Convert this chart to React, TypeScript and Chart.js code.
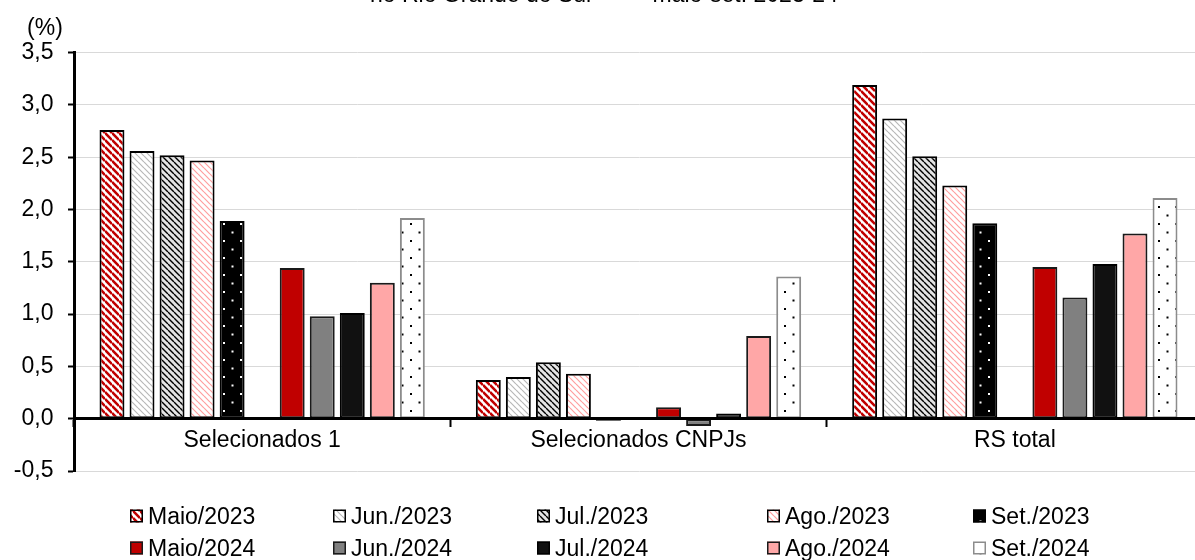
import React, { useEffect, useRef } from 'react';
import { Chart, registerables } from 'chart.js';

Chart.register(...registerables);

const categories = ['Selecionados 1', 'Selecionados CNPJs', 'RS total'];
const seriesLabels = [
  'Maio/2023', 'Jun./2023', 'Jul./2023', 'Ago./2023', 'Set./2023',
  'Maio/2024', 'Jun./2024', 'Jul./2024', 'Ago./2024', 'Set./2024',
];
const maio2023 = [2.76, 0.37, 3.19];
const jun2023 = [2.56, 0.40, 2.87];
const jul2023 = [2.52, 0.54, 2.51];
const ago2023 = [2.47, 0.43, 2.23];
const set2023 = [1.89, -0.02, 1.87];
const maio2024 = [1.44, 0.11, 1.45];
const jun2024 = [0.98, -0.07, 1.16];
const jul2024 = [1.01, 0.05, 1.48];
const ago2024 = [1.30, 0.79, 1.77];
const set2024 = [1.92, 1.36, 2.11];
const yMin = -0.5;
const yMax = 3.5;
const yStep = 0.5;
const unitLabel = '(%)';
const titleText = 'no Rio Grande do Sul   —   maio-set. 2023-24';

const FONT = 'Arial, "Liberation Sans", sans-serif';

function stripePattern(bg: string, fg: string, size: number, lw: number) {
  const c = document.createElement('canvas');
  c.width = size;
  c.height = size;
  const x = c.getContext('2d')!;
  x.fillStyle = bg;
  x.fillRect(0, 0, size, size);
  x.strokeStyle = fg;
  x.lineWidth = lw;
  x.beginPath();
  for (let k = -1; k <= 1; k++) {
    x.moveTo(0, k * size);
    x.lineTo(size, size + k * size);
  }
  x.stroke();
  return x.createPattern(c, 'repeat')!;
}

function dotPattern(bg: string, fg: string, size: number, d: number) {
  const c = document.createElement('canvas');
  c.width = size;
  c.height = size;
  const x = c.getContext('2d')!;
  x.fillStyle = bg;
  x.fillRect(0, 0, size, size);
  x.fillStyle = fg;
  x.fillRect(2, 2, d, d);
  x.fillRect(2 + size / 2, 2 + size / 2, d, d);
  return x.createPattern(c, 'repeat')!;
}

export default function App() {
  const ref = useRef<HTMLCanvasElement>(null);

  useEffect(() => {
    const canvas = ref.current!;
    const fills: any[] = [
      stripePattern('#ffffff', '#C00000', 7, 2.6),
      stripePattern('#ffffff', '#B8B8B8', 6, 1.2),
      stripePattern('#E4E4E4', '#000000', 6, 1.4),
      stripePattern('#ffffff', '#FF9E9E', 6, 1.2),
      dotPattern('#000000', '#ffffff', 17, 2),
      '#C00000',
      '#808080',
      '#111111',
      '#FFA7A7',
      dotPattern('#ffffff', '#000000', 17, 2),
    ];
    const borders = ['#000', '#000', '#000', '#000', '#000', '#1a1a1a', '#1a1a1a', '#000', '#1a1a1a', '#8C8C8C'];
    const values = [maio2023, jun2023, jul2023, ago2023, set2023, maio2024, jun2024, jul2024, ago2024, set2024];

    const datasets: any[] = [];
    values.forEach((v, i) => {
      if (i === 5) {
        datasets.push({ label: '', data: categories.map(() => null), backgroundColor: 'transparent', borderWidth: 0 });
      }
      datasets.push({
        label: seriesLabels[i],
        data: v,
        backgroundColor: fills[i],
        borderColor: borders[i],
        borderWidth: 2,
        borderSkipped: false,
      });
    });
    datasets.forEach((d) => {
      d.categoryPercentage = 0.878;
      d.barPercentage = 0.83;
    });

    const legendPlugin = {
      id: 'customLegend',
      afterDraw(chart: any) {
        const ctx = chart.ctx;
        ctx.save();
        const colX = [130, 333, 537, 767, 973];
        const rowY = [516, 548];
        ctx.font = `23px ${FONT}`;
        ctx.textAlign = 'left';
        ctx.textBaseline = 'alphabetic';
        seriesLabels.forEach((lab, i) => {
          const x = colX[i % 5];
          const y = rowY[Math.floor(i / 5)];
          ctx.fillStyle = fills[i];
          ctx.fillRect(x, y - 6.5, 13, 13);
          ctx.strokeStyle = borders[i];
          ctx.lineWidth = 1.5;
          ctx.strokeRect(x + 0.75, y - 5.75, 11.5, 11.5);
          ctx.fillStyle = '#000';
          ctx.fillText(lab, x + 18, y + 8.2);
        });
        ctx.textAlign = 'center';
        ctx.fillText(unitLabel, 45, 35);
        ctx.restore();
      },
    };

    const font = { family: FONT, size: 23 };
    const chart = new Chart(canvas, {
      type: 'bar',
      data: { labels: categories, datasets },
      options: {
        animation: false,
        responsive: false,
        devicePixelRatio: 1,
        layout: { padding: { left: 0, right: 12, top: 52.7, bottom: 89 } },
        plugins: { legend: { display: false }, tooltip: { enabled: false }, title: { display: false } },
        scales: {
          x: {
            position: { y: 0 } as any,
            offset: true,
            grid: { offset: true, drawOnChartArea: false, drawTicks: true, tickLength: 7, tickColor: '#000', tickWidth: 2 },
            border: { display: true, color: '#000', width: 3, z: 1 } as any,
            ticks: { color: '#000', font, padding: 1, maxRotation: 0, autoSkip: false, z: 1 } as any,
            afterFit: (s: any) => { s.height = 0; },
          },
          y: {
            min: yMin,
            max: yMax,
            ticks: {
              stepSize: yStep,
              color: '#000',
              font,
              padding: 14.5,
              callback: (v: any) => Number(v).toFixed(1).replace('.', ','),
            },
            grid: { color: '#D9D9D9', lineWidth: 1, tickColor: '#000', tickLength: 6, tickWidth: 2 },
            border: { color: '#000', width: 3, z: 1 } as any,
            afterFit: (s: any) => { s.width = 74; },
          },
        },
      },
      plugins: [legendPlugin],
    });
    return () => chart.destroy();
  }, []);

  return (
    <div style={{ position: 'fixed', left: 0, top: 0, width: 1195, height: 560, overflow: 'hidden', background: '#fff' }}>
      <canvas ref={ref} width={1215} height={560} style={{ position: 'absolute', left: 0, top: 0 }} />
      <div style={{ position: 'absolute', left: 370, top: -19, font: `23px ${FONT}`, whiteSpace: 'pre', color: '#000' }}>
        {titleText}
      </div>
    </div>
  );
}
